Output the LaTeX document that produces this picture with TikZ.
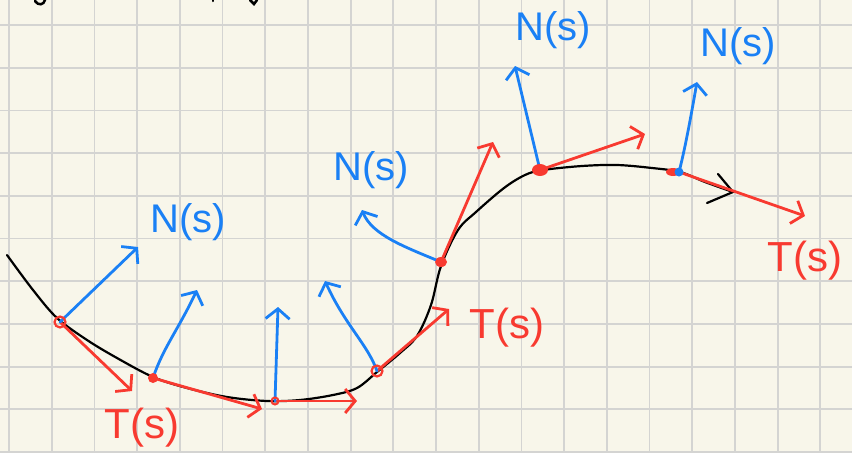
\documentclass[tikz,border=0pt]{standalone}
\usepackage{fontspec}
\setmainfont{Liberation Sans}
\usetikzlibrary{arrows.meta}
\definecolor{paper}{HTML}{F8F6EA}
\definecolor{gridc}{HTML}{D4D4D2}
\definecolor{pred}{HTML}{F83A30}
\definecolor{pblue}{HTML}{1A80F5}
\tikzset{
  tvec/.style={draw=pred, line width=2.8pt, line cap=round, line join=round,
    -{Straight Barb[length=10pt,width=24pt,line width=2.8pt]}},
  nvec/.style={draw=pblue, line width=2.8pt, line cap=round, line join=round,
    -{Straight Barb[length=10pt,width=24pt,line width=2.8pt]}},
  curve/.style={draw=black, line width=2.2pt, line cap=round},
  nlab/.style={text=pblue, font=\fontsize{40}{40}\selectfont, inner sep=0pt},
  tlab/.style={text=pred, font=\fontsize{42}{42}\selectfont, inner sep=0pt},
  gridline/.style={draw=gridc, line width=1.8pt},
}
\begin{document}
\begin{tikzpicture}[x=1pt,y=-1pt]
\fill[paper] (0,0) rectangle (852,453);
\useasboundingbox (0,0) rectangle (852,453);
% grid
\foreach \gx in {9,51.7,94.4,137.1,179.8,222.5,265.2,307.9,350.6,393.3,436,478.7,521.4,564.1,606.8,649.5,692.2,734.9,777.6,820.3}
  {\draw[gridline] (\gx,0) -- (\gx,453);}
\foreach \gy in {25,67.7,110.4,153.1,195.8,238.5,281.2,323.9,366.6,409.3,452}
  {\draw[gridline] (0,\gy) -- (852,\gy);}
% fragments of text at top
\draw[curve, line width=2.5pt] (35,1) .. controls (38,6) and (44,5) .. (45,0);
\draw[curve, line width=2.5pt] (213,0) -- (213,1);
\draw[curve, line width=2.5pt] (250,0) -- (254,4) -- (257,0);
% points
\coordinate (P1) at (60,322);
\coordinate (P2) at (153,378);
\coordinate (P3) at (275,401);
\coordinate (P4) at (377,371);
\coordinate (P5) at (441,262);
\coordinate (P6) at (540,170);
\coordinate (P7) at (679,172);
% curve
\draw[curve] plot[smooth, tension=0.55] coordinates {(7,255) (33,290) (57,318) (87,340) (117,358) (153,377) (187,388) (227,397) (267,401) (300,400) (333,395) (357,388) (377,372) (400,353) (417,336) (431,305) (441,266) (458,230) (476,212) (504,188) (525,175) (543,170) (582,166) (617,165) (652,168) (680,172) (705,182) (733,192)};
\coordinate (Ctip) at (733,192);
\draw[curve, line join=round] (718,174) -- (Ctip) -- (707,203);
% tangent vectors
\coordinate (T1) at (132,391);
\coordinate (T2) at (262,409);
\coordinate (T3) at (357,401);
\coordinate (T4) at (449,309);
\coordinate (T5) at (493,142);
\coordinate (T6) at (645,134);
\coordinate (T7) at (805,216);
\draw[tvec] (P1) -- (T1);
\draw[tvec] (P2) -- (T2);
\draw[tvec] (P3) -- (T3);
\draw[tvec] (P4) -- (T4);
\draw[tvec] (P5) -- (T5);
\draw[tvec] (P6) -- (T6);
\draw[tvec] (P7) -- (T7);
% normal vectors
\coordinate (N1) at (138,247);
\coordinate (N2) at (197,290);
\coordinate (N3) at (278,307);
\coordinate (N4) at (325,281);
\coordinate (N5) at (362,210);
\coordinate (N6) at (515,66);
\coordinate (N7) at (697,82);
\draw[nvec] (P1) -- (N1);
\draw[nvec] (P2) .. controls (163,348) and (178,330) .. (N2);
\draw[nvec] (P3) -- (N3);
\draw[nvec] (P4) .. controls (368,345) and (345,325) .. (N4);
\draw[nvec] (P5) .. controls (405,247) and (372,235) .. (N5);
\draw[nvec] (P6) -- (N6);
\draw[nvec] (P7) .. controls (686,145) and (692,110) .. (N7);
% dots
\draw[pred, line width=2.2pt] (P1) circle (5.5pt);
\fill[pred] (P2) circle (5pt);
\draw[pred, line width=2pt] (P3) circle (3.5pt);
\draw[pred, line width=2.2pt] (P4) circle (5.5pt);
\fill[pred] (P5) ellipse (6pt and 5pt);
\fill[pred] (P6) ellipse (8pt and 6pt);
\fill[pred] (673,172) ellipse (7pt and 4pt);
\fill[pblue] (P7) circle (4.5pt);
% labels
\node[nlab] (LN1) at (188,222) {N(s)};
\node[tlab] (LT1) at (142,428) {T(s)};
\node[nlab] (LN5) at (371,170) {N(s)};
\node[tlab] (LT4) at (507,328) {T(s)};
\node[nlab] (LN6) at (553,30) {N(s)};
\node[nlab] (LN7) at (738,46) {N(s)};
\node[tlab] (LT7) at (805,261) {T(s)};
\end{tikzpicture}
\end{document}
